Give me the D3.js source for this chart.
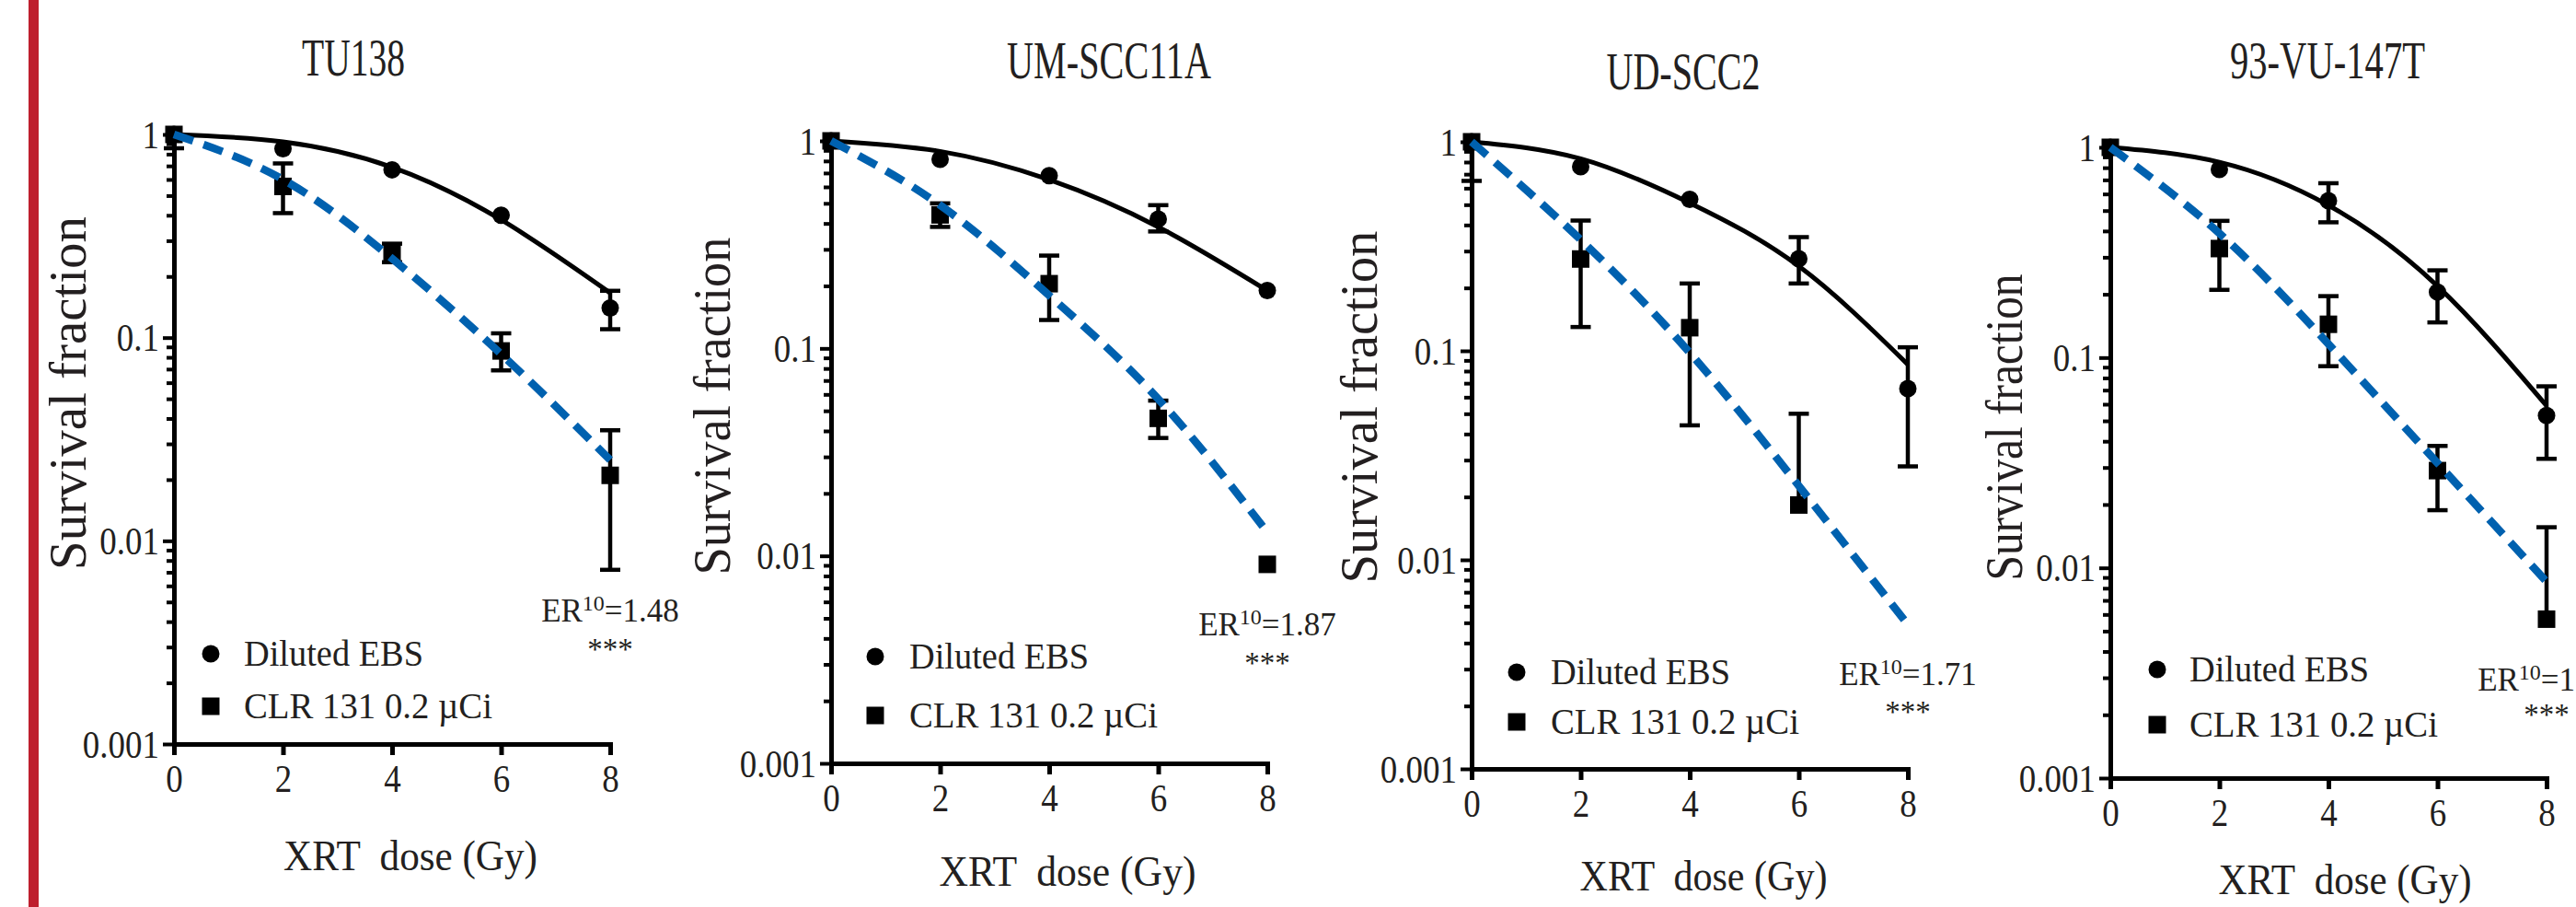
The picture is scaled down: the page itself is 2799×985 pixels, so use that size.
<!DOCTYPE html>
<html>
<head>
<meta charset="utf-8">
<script src="https://cdn.jsdelivr.net/npm/d3@7"></script>
<style>
body { margin: 0; background: #fff; }
svg text { font-family: "Liberation Serif", "Times New Roman", serif; fill: #231f20; }
</style>
</head>
<body>
<svg id="fig" width="2799" height="985"></svg>
<script>
// ---- data ----
var cellLines = ["TU138", "UM-SCC11A", "UD-SCC2", "93-VU-147T"];
var doses = [0, 2, 4, 6, 8];
var xTicks = [0, 2, 4, 6, 8];
var yTicks = [0.001, 0.01, 0.1, 1];
var yTickLabels = ["0.001", "0.01", "0.1", "1"];
var seriesNames = ["Diluted EBS", "CLR 131 0.2 \u00b5Ci"];
var erValues = ["1.48", "1.87", "1.71", "1.95"];

// Diluted EBS (circles)
var ebsMean = [[1, 0.85, 0.67, 0.40, 0.14],
               [1, 0.815, 0.68, 0.42, 0.19],
               [1, 0.76, 0.53, 0.276, 0.066],
               [1, 0.785, 0.557, 0.205, 0.053]];
var ebsLo = [[null, null, null, null, 0.11],
             [null, null, null, 0.366, null],
             [0.65, null, null, 0.21, 0.028],
             [null, null, 0.44, 0.147, 0.033]];
var ebsHi = [[null, null, null, null, 0.17],
             [null, null, null, 0.49, null],
             [1.35, null, null, 0.35, 0.104],
             [null, null, 0.675, 0.26, 0.073]];
var ebsFit = [[1, 0.92, 0.69, 0.38, 0.166],
              [1, 0.89, 0.65, 0.385, 0.19],
              [1, 0.83, 0.51, 0.254, 0.086],
              [1, 0.85, 0.53, 0.219, 0.059]];

// CLR 131 (squares)
var clrMean = [[1, 0.555, 0.26, 0.086, 0.021],
               [1, 0.44, 0.205, 0.046, 0.0091],
               [1, 0.275, 0.129, 0.0183, null],
               [1, 0.33, 0.144, 0.029, 0.0057]];
var clrLo = [[0.855, 0.41, 0.235, 0.069, 0.0072],
             [null, 0.385, 0.137, 0.037, null],
             [null, 0.13, 0.044, null, null],
             [null, 0.21, 0.091, 0.0188, null]];
var clrHi = [[1.145, 0.72, 0.29, 0.105, 0.035],
             [null, 0.50, 0.28, 0.056, null],
             [null, 0.42, 0.21, 0.05, null],
             [null, 0.447, 0.196, 0.038, 0.0156]];
var clrFit = [[1, 0.60, 0.245, 0.083, 0.025],
              [1, 0.49, 0.18, 0.057, 0.013],
              [1, 0.34, 0.098, 0.0226, 0.0049],
              [1, 0.39, 0.116, 0.0315, 0.0086]];

// ---- layout ----
var plotLeft = [189, 903, 1599, 2293];
var plotW = 474;
var plotTop = [146, 153, 154, 160];
var plotBottom = [808, 829, 835, 845];
var titleX = [384, 1205, 1829, 2529], titleY = [82, 85, 97, 85], titleLen = [112, 222, 167, 212];
var ylabX = [93, 793, 1496, 2197], ylabY = [427, 441, 442, 464], ylabLen = [384, 367, 383, 333];
var xlabX = [446, 1160, 1851, 2548], xlabY = [945, 962, 967, 971], xlabLen = [276, 279, 269, 275];
var legX = [229, 951, 1648, 2344], legTextX = [265, 988, 1685, 2379];
var legY1 = [710, 713, 730, 727], legY2 = [767, 777, 784, 787];
var erY = [675, 690, 744, 750], starY = [716, 731, 784, 787];
var blue = "#0061af";

var svg = d3.select("#fig");

svg.append("rect").attr("x", 31).attr("y", 0).attr("width", 11).attr("height", 985)
    .attr("fill", "#be1e2d");

cellLines.forEach(function(name, i) {
    var x = d3.scaleLinear().domain([0, 8]).range([plotLeft[i], plotLeft[i] + plotW]);
    var y = d3.scaleLog().domain([0.001, 1]).range([plotBottom[i], plotTop[i]]);
    var g = svg.append("g");

    // minor y ticks
    var minor = y.ticks().filter(function(t) { return yTicks.indexOf(t) < 0; });
    var ym = g.append("g").attr("transform", "translate(" + plotLeft[i] + ",0)")
        .call(d3.axisLeft(y).tickValues(minor).tickSize(8).tickSizeOuter(0).tickFormat(""));
    ym.select(".domain").remove();
    ym.selectAll(".tick line").attr("stroke", "#000").attr("stroke-width", 4);

    // major y ticks + axis line
    var ya = g.append("g").attr("transform", "translate(" + plotLeft[i] + ",0)")
        .call(d3.axisLeft(y).tickValues(yTicks).tickSize(12).tickSizeOuter(0)
            .tickFormat(function(d, k) { return yTickLabels[k]; }));
    ya.select(".domain").attr("stroke", "#000").attr("stroke-width", 5).attr("stroke-linecap", "square");
    ya.selectAll(".tick line").attr("stroke", "#000").attr("stroke-width", 4);
    ya.selectAll(".tick text").attr("x", 0).attr("dy", "0.34em").attr("font-size", 42)
        .attr("transform", "translate(-16,0) scale(0.88,1)");

    // x axis
    var xa = g.append("g").attr("transform", "translate(0," + plotBottom[i] + ")")
        .call(d3.axisBottom(x).tickValues(xTicks).tickSize(12).tickSizeOuter(0));
    xa.select(".domain").attr("stroke", "#000").attr("stroke-width", 5).attr("stroke-linecap", "square");
    xa.selectAll(".tick line").attr("stroke", "#000").attr("stroke-width", 5);
    xa.selectAll(".tick text").attr("y", 0).attr("dy", null).attr("font-size", 42)
        .attr("transform", "translate(0,52) scale(0.88,1)");

    // error bars (clipped to the axis range)
    function errBars(mean, lo, hi) {
        doses.forEach(function(d, k) {
            if (mean[k] == null) return;
            var cx = x(d);
            var top = hi[k] != null ? hi[k] : mean[k];
            var bot = lo[k] != null ? lo[k] : mean[k];
            if (top === bot) return;
            var yt = y(Math.min(top, 1)), yb = y(Math.max(bot, 0.001));
            g.append("line").attr("x1", cx).attr("x2", cx).attr("y1", yt).attr("y2", yb)
                .attr("stroke", "#000").attr("stroke-width", 4.5);
            [hi[k], lo[k]].forEach(function(v) {
                if (v == null || v > 1 || v < 0.001) return;
                g.append("line").attr("x1", cx - 11).attr("x2", cx + 11)
                    .attr("y1", y(v)).attr("y2", y(v))
                    .attr("stroke", "#000").attr("stroke-width", 4.5);
            });
        });
    }
    errBars(ebsMean[i], ebsLo[i], ebsHi[i]);
    errBars(clrMean[i], clrLo[i], clrHi[i]);

    // markers
    g.selectAll("circle.pt").data(doses.map(function(d, k) { return [d, ebsMean[i][k]]; }))
        .enter().append("circle")
        .attr("cx", function(d) { return x(d[0]); })
        .attr("cy", function(d) { return y(d[1]); })
        .attr("r", 9.5).attr("fill", "#000");
    g.selectAll("rect.pt").data(doses.map(function(d, k) { return [d, clrMean[i][k]]; })
            .filter(function(d) { return d[1] != null; }))
        .enter().append("rect")
        .attr("x", function(d) { return x(d[0]) - 9.5; })
        .attr("y", function(d) { return y(d[1]) - 9.5; })
        .attr("width", 19).attr("height", 19).attr("fill", "#000");

    // fitted curves
    var line = d3.line()
        .x(function(d) { return x(d[0]); })
        .y(function(d) { return y(d[1]); })
        .curve(d3.curveNatural);
    g.append("path").datum(doses.map(function(d, k) { return [d, ebsFit[i][k]]; }))
        .attr("d", line).attr("fill", "none").attr("stroke", "#000").attr("stroke-width", 5);
    g.append("path").datum(doses.map(function(d, k) { return [d, clrFit[i][k]]; }))
        .attr("d", line).attr("fill", "none").attr("stroke", blue).attr("stroke-width", 8.5)
        .attr("stroke-dasharray", "22,12");

    // legend
    g.append("circle").attr("cx", legX[i]).attr("cy", legY1[i]).attr("r", 9.5).attr("fill", "#000");
    g.append("rect").attr("x", legX[i] - 9.5).attr("y", legY2[i] - 9.5)
        .attr("width", 19).attr("height", 19).attr("fill", "#000");
    g.append("text").attr("x", legTextX[i]).attr("y", legY1[i] + 13).attr("font-size", 40)
        .attr("textLength", 195).attr("lengthAdjust", "spacingAndGlyphs").text(seriesNames[0]);
    g.append("text").attr("x", legTextX[i]).attr("y", legY2[i] + 13).attr("font-size", 40)
        .attr("textLength", 270).attr("lengthAdjust", "spacingAndGlyphs").text(seriesNames[1]);

    // ER annotation
    var er = g.append("text").attr("x", x(8)).attr("y", erY[i]).attr("font-size", 35)
        .attr("text-anchor", "middle");
    er.append("tspan").text("ER");
    er.append("tspan").attr("font-size", 24).attr("dy", -12).text("10");
    er.append("tspan").attr("dy", 12).text("=" + erValues[i]);
    g.append("text").attr("x", x(8)).attr("y", starY[i]).attr("font-size", 33)
        .attr("text-anchor", "middle").text("***");

    // titles and axis labels
    g.append("text").attr("x", titleX[i]).attr("y", titleY[i]).attr("font-size", 56)
        .attr("text-anchor", "middle").attr("textLength", titleLen[i])
        .attr("lengthAdjust", "spacingAndGlyphs").text(name);
    g.append("text").attr("transform", "translate(" + ylabX[i] + "," + ylabY[i] + ") rotate(-90)")
        .attr("font-size", 57).attr("text-anchor", "middle").attr("textLength", ylabLen[i])
        .attr("lengthAdjust", "spacingAndGlyphs").text("Survival fraction");
    g.append("text").attr("x", xlabX[i]).attr("y", xlabY[i]).attr("font-size", 46)
        .attr("text-anchor", "middle").attr("textLength", xlabLen[i])
        .attr("lengthAdjust", "spacingAndGlyphs").style("white-space", "pre")
        .text("XRT  dose (Gy)");
});
</script>
</body>
</html>
